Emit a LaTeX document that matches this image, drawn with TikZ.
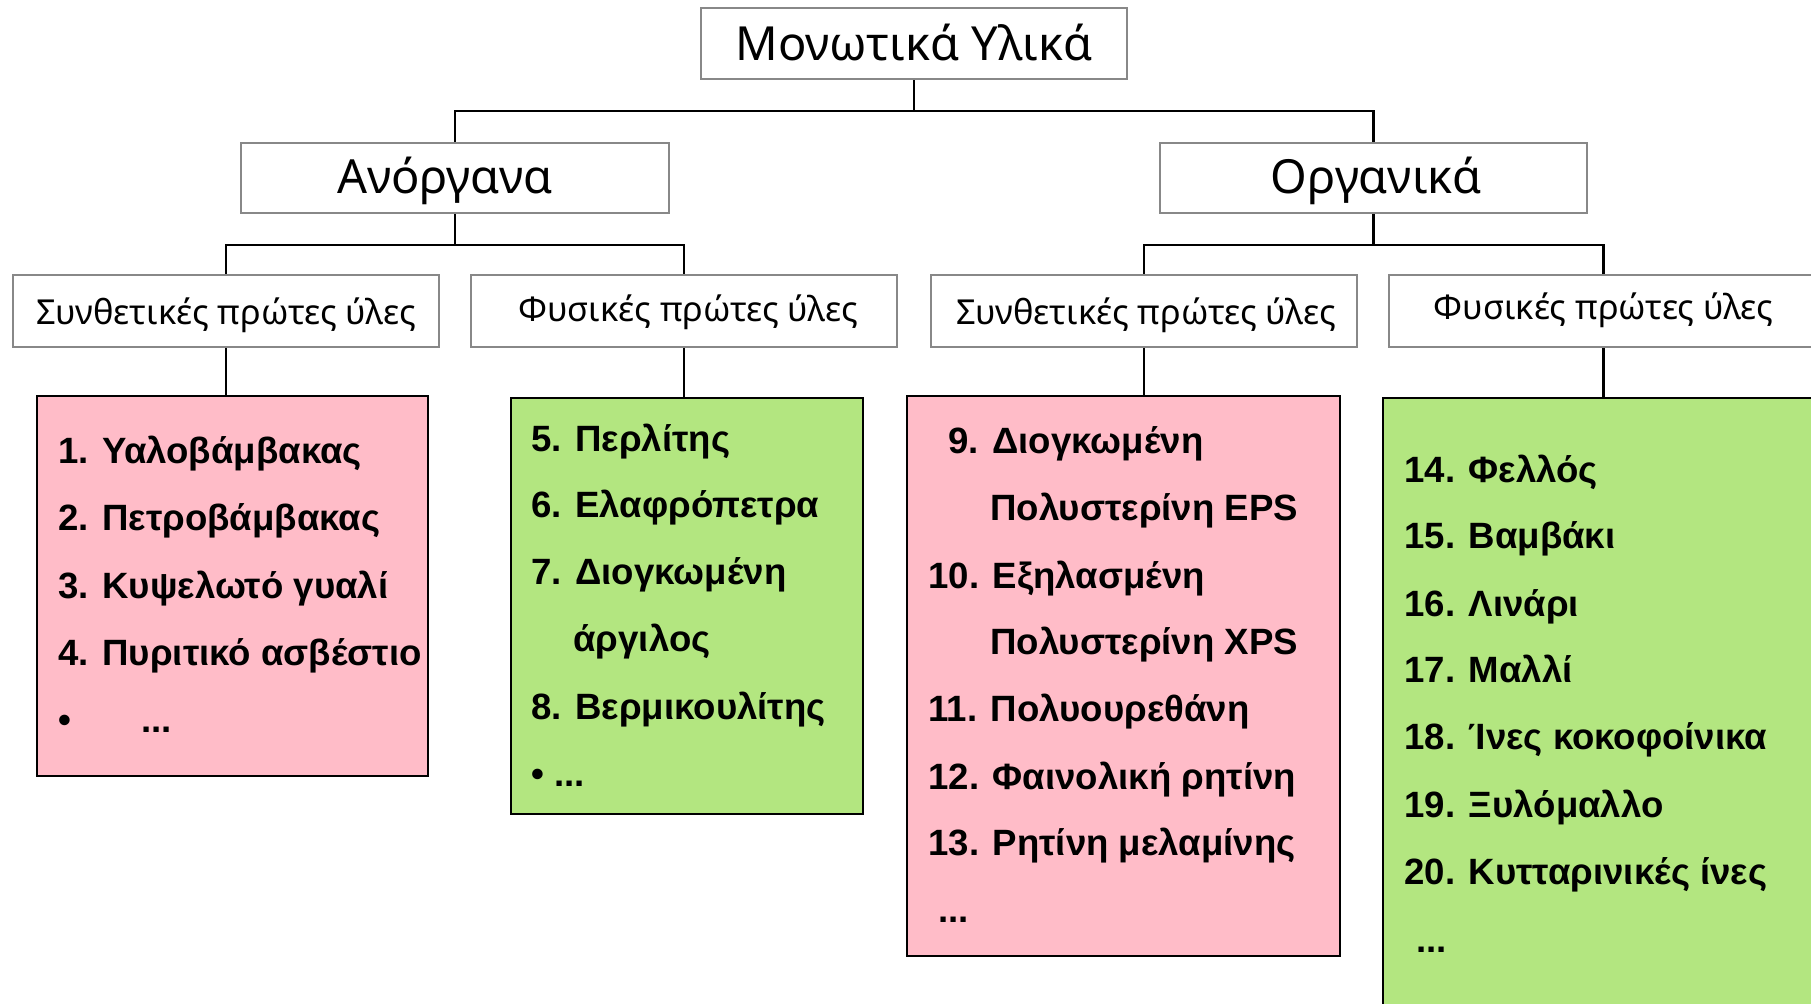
\documentclass[tikz,border=0pt]{standalone}
\usepackage{fontspec}
\setmainfont{Liberation Sans}
\newfontfamily\headfont{Noto Sans}
\definecolor{boxgray}{HTML}{888888}
\definecolor{pinkfill}{HTML}{FFBCC8}
\definecolor{greenfill}{HTML}{B3E680}
\tikzset{
  catbox/.style={draw=boxgray, line width=1.3pt, fill=white, rectangle, inner sep=0pt},
  listbox/.style={draw=black, line width=1.1pt, rectangle, inner sep=0pt},
  conn/.style={draw=black, line width=1.1pt},
  item/.style={anchor=base west, inner sep=0pt, font=\fontsize{18.3}{21}\selectfont\bfseries},
  bigtxt/.style={inner sep=0pt, font=\headfont\fontsize{23.5}{28}\selectfont},
  midtxt/.style={inner sep=0pt, font=\headfont\fontsize{17.2}{20}\selectfont}
}
\begin{document}
\begin{tikzpicture}[x=0.5pt, y=-0.5pt]
\useasboundingbox (0,0) rectangle (1811,1004);
\clip (0,0) rectangle (1811,1004);
\fill[white] (0,0) rectangle (1811,1004);

% list boxes
\node[listbox, fill=pinkfill, minimum width=195.5pt, minimum height=190pt] (p1) at (232.5,586) {};
\node[listbox, fill=greenfill, minimum width=176pt, minimum height=208pt] (g1) at (687,606) {};
\node[listbox, fill=pinkfill, minimum width=216.5pt, minimum height=280pt] (p2) at (1123.5,676) {};
\node[listbox, fill=greenfill, minimum width=230pt, minimum height=320pt] (g2) at (1613,718) {};

% category boxes
\node[catbox, minimum width=213pt, minimum height=35.5pt] (top) at (914,43.5) {};
\node[catbox, minimum width=214pt, minimum height=35pt] (ano) at (455,178) {};
\node[catbox, minimum width=213.5pt, minimum height=35pt] (org) at (1373.5,178) {};
\node[catbox, minimum width=213pt, minimum height=36pt] (s1) at (226,311) {};
\node[catbox, minimum width=213pt, minimum height=36pt] (f1) at (684,311) {};
\node[catbox, minimum width=213pt, minimum height=36pt] (s2) at (1144,311) {};
\node[catbox, minimum width=214.5pt, minimum height=36pt] (f2) at (1603.5,311) {};

% category labels
\node[bigtxt] (topt) at ([yshift=0.5pt]top.center) {Μονωτικά Υλικά};
\node[bigtxt] (anot) at ([xshift=-5pt,yshift=-1.5pt]ano.center) {Ανόργανα};
\node[bigtxt] (orgt) at ([xshift=1.5pt,yshift=-1.5pt]org.center) {Οργανικά};
\node[midtxt] (s1t) at ([yshift=-2pt]s1.center) {Συνθετικές πρώτες ύλες};
\node[midtxt] (f1t) at ([xshift=2pt,yshift=-0.5pt]f1.center) {Φυσικές πρώτες ύλες};
\node[midtxt] (s2t) at ([xshift=1pt,yshift=-2pt]s2.center) {Συνθετικές πρώτες ύλες};
\node[midtxt] (f2t) at ([yshift=0.5pt]f2.center) {Φυσικές πρώτες ύλες};

% connectors
\coordinate (j1) at (914,111);
\coordinate (j2) at (455,245);
\coordinate (j3) at (1373.5,245);
\draw[conn] (top.south) -- (j1) -| (ano.north);
\draw[conn] (j1) -| (org.north);
\draw[conn] (ano.south) -- (j2) -| (s1.north);
\draw[conn] (j2) -| (f1.north);
\draw[conn] (org.south) -- (j3) -| (s2.north);
\draw[conn] (j3) -| (f2.north);
\draw[conn] (s1.south) -- (s1.south |- p1.north);
\draw[conn] (f1.south) -- (f1.south |- g1.north);
\draw[conn] (s2.south) -- (s2.south |- p2.north);
\draw[conn] (f2.south) -- (f2.south |- g2.north);

% pink 1 items
\node[item] (a1) at (58,464) {1. Υαλοβάμβακας};
\node[item] (a2) at (58,531) {2. Πετροβάμβακας};
\node[item] (a3) at (58,599) {3. Κυψελωτό γυαλί};
\node[item] (a4) at (58,666) {4. Πυριτικό ασβέστιο};
\node[item] (a5) at (58,733) {•};
\node[item] (a6) at (141,733) {...};

% green 1 items
\node[item] (b1) at (531,452) {5. Περλίτης};
\node[item] (b2) at (531,518) {6. Ελαφρόπετρα};
\node[item] (b3) at (531,585) {7. Διογκωμένη};
\node[item] (b4) at (573,652) {άργιλος};
\node[item] (b5) at (531,720) {8. Βερμικουλίτης};
\node[item] (b6) at (531,787) {• ...};

% pink 2 items
\node[item] (c1) at (948,454) {9. Διογκωμένη};
\node[item] (c2) at (990,521) {Πολυστερίνη EPS};
\node[item] (c3) at (928,589) {10. Εξηλασμένη};
\node[item] (c4) at (990,655) {Πολυστερίνη XPS};
\node[item] (c5) at (928,722) {11. Πολυουρεθάνη};
\node[item] (c6) at (928,790) {12. Φαινολική ρητίνη};
\node[item] (c7) at (928,856) {13. Ρητίνη μελαμίνης};
\node[item] (c8) at (938,923) {...};

% green 2 items
\node[item] (d1) at (1404,483) {14. Φελλός};
\node[item] (d2) at (1404,549) {15. Βαμβάκι};
\node[item] (d3) at (1404,617) {16. Λινάρι};
\node[item] (d4) at (1404,683) {17. Μαλλί};
\node[item] (d5) at (1404,750) {18. Ίνες κοκοφοίνικα};
\node[item] (d6) at (1404,818) {19. Ξυλόμαλλο};
\node[item] (d7) at (1404,885) {20. Κυτταρινικές ίνες};
\node[item] (d8) at (1416,953) {...};
\end{tikzpicture}
\end{document}
